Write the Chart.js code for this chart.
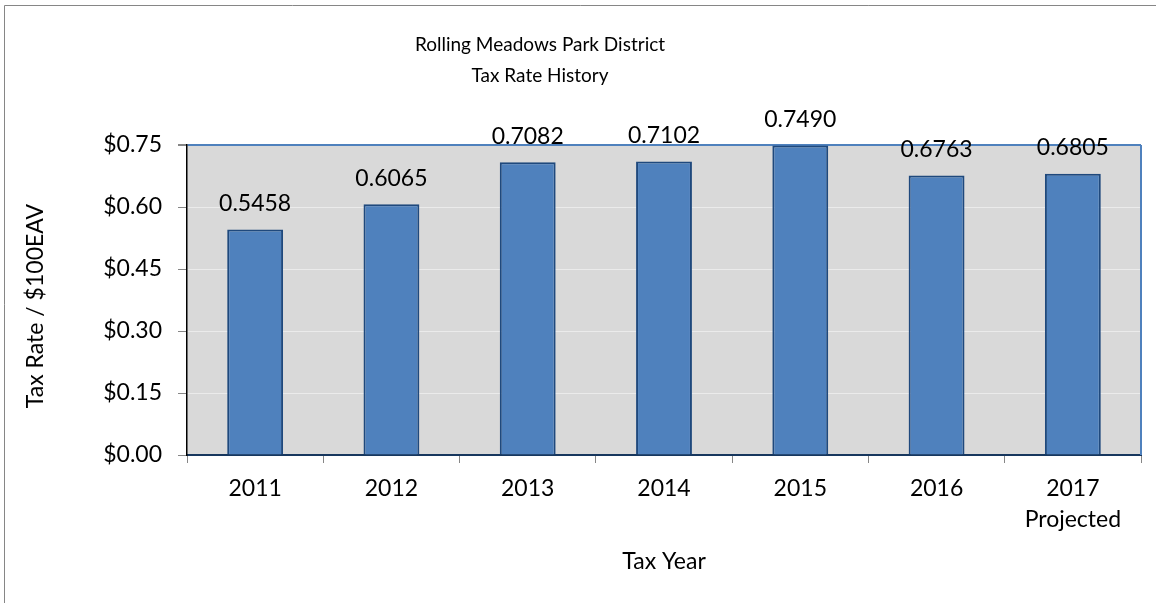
<!DOCTYPE html>
<html>
<head>
<meta charset="utf-8">
<script src="https://cdn.jsdelivr.net/npm/chart.js@4/dist/chart.umd.min.js"></script>
<style>
  html, body { margin: 0; padding: 0; background: #fff; }
  #wrap { width: 1156px; height: 603px; position: relative; }
</style>
</head>
<body>
<div id="wrap"><canvas id="c"></canvas></div>
<script>
// data
const years = [ '2011', '2012', '2013', '2014', '2015', '2016', [ '2017', 'Projected' ] ];
const taxRates = [ 0.5458, 0.6065, 0.7082, 0.7102, 0.7490, 0.6763, 0.6805 ];
const yTicks = [ 0, 0.15, 0.30, 0.45, 0.60, 0.75 ];

const titleLines = [ 'Rolling Meadows Park District', 'Tax Rate History' ];
const yTitle = 'Tax Rate / $100EAV';
const xTitle = 'Tax Year';

const FONT = 'Lato';

// plot background, borders, titles and value labels
const decor = {
    id : 'decor',
    beforeDraw( chart )
    {
        const ctx = chart.ctx;
        const a = chart.chartArea;
        ctx.save();
        ctx.fillStyle = '#d9d9d9';
        ctx.fillRect( a.left, a.top, a.right - a.left, a.bottom - a.top );
        // outer chart frame (only top/left visible)
        ctx.strokeStyle = '#868686';
        ctx.lineWidth = 1;
        ctx.beginPath();
        ctx.moveTo( 4.5, 603 );
        ctx.lineTo( 4.5, 5.5 );
        ctx.lineTo( 1156, 5.5 );
        ctx.stroke();
        ctx.restore();
    },
    afterDatasetsDraw( chart )
    {
        const ctx = chart.ctx;
        const a = chart.chartArea;
        const meta = chart.getDatasetMeta( 0 );
        ctx.save();
        // right plot border
        ctx.strokeStyle = '#4f81bd';
        ctx.lineWidth = 2;
        ctx.beginPath();
        ctx.moveTo( a.right, a.top );
        ctx.lineTo( a.right, a.bottom );
        ctx.stroke();

        ctx.fillStyle = '#000';
        ctx.textAlign = 'center';
        ctx.textBaseline = 'middle';
        ctx.font = '23px ' + FONT;
        meta.data.forEach( ( bar, i ) => {
            ctx.fillText( taxRates[ i ].toFixed( 4 ), bar.x, bar.y - 26 );
        });

        ctx.font = '19px ' + FONT;
        ctx.fillText( titleLines[ 0 ], 540, 45 );
        ctx.fillText( titleLines[ 1 ], 540, 76 );

        ctx.font = '23px ' + FONT;
        ctx.fillText( xTitle, ( a.left + a.right ) / 2, 562 );

        ctx.translate( 36, 306 );
        ctx.rotate( -Math.PI / 2 );
        ctx.fillText( yTitle, 0, 0 );
        ctx.restore();
    }
};

new Chart( document.getElementById( 'c' ), {
    type : 'bar',
    data : {
        labels : years,
        datasets : [ {
            data : taxRates,
            backgroundColor : '#4f81bd',
            borderColor : '#1f497d',
            borderWidth : 2,
            borderSkipped : 'start',
            categoryPercentage : 1,
            barPercentage : 0.41
        } ]
    },
    options : {
        responsive : true,
        maintainAspectRatio : false,
        animation : false,
        layout : { padding : { top : 145, right : 15, left : 0, bottom : 0 } },
        plugins : {
            legend : { display : false },
            tooltip : { enabled : false },
            title : { display : false }
        },
        scales : {
            x : {
                grid : {
                    display : true,
                    drawOnChartArea : false,
                    offset : true,
                    tickLength : 8,
                    tickColor : '#868686'
                },
                border : { display : true, color : '#17375e', width : 2 },
                ticks : {
                    color : '#000',
                    padding : 10,
                    font : { family : FONT, size : 23, lineHeight : 1.35 },
                    maxRotation : 0
                },
                afterFit( scale ) { scale.height = 148; }
            },
            y : {
                min : 0,
                max : 0.75,
                afterBuildTicks( scale ) { scale.ticks = yTicks.map( v => ( { value : v } ) ); },
                grid : {
                    color : ( c ) => {
                        if ( c.tick.value === 0 ) return 'rgba(0,0,0,0)';
                        if ( c.tick.value >= 0.75 ) return '#4f81bd';
                        return '#ebebeb';
                    },
                    lineWidth : ( c ) => ( c.tick.value >= 0.75 ? 2 : 1 ),
                    tickColor : '#868686',
                    tickLength : 9
                },
                border : { display : true, color : '#000', width : 1.5 },
                ticks : {
                    color : '#000',
                    padding : 16,
                    font : { family : FONT, size : 23 },
                    callback : ( v ) => '$' + Number( v ).toFixed( 2 )
                },
                afterFit( scale ) { scale.width = 187; }
            }
        }
    },
    plugins : [ decor ]
});
</script>
</body>
</html>
